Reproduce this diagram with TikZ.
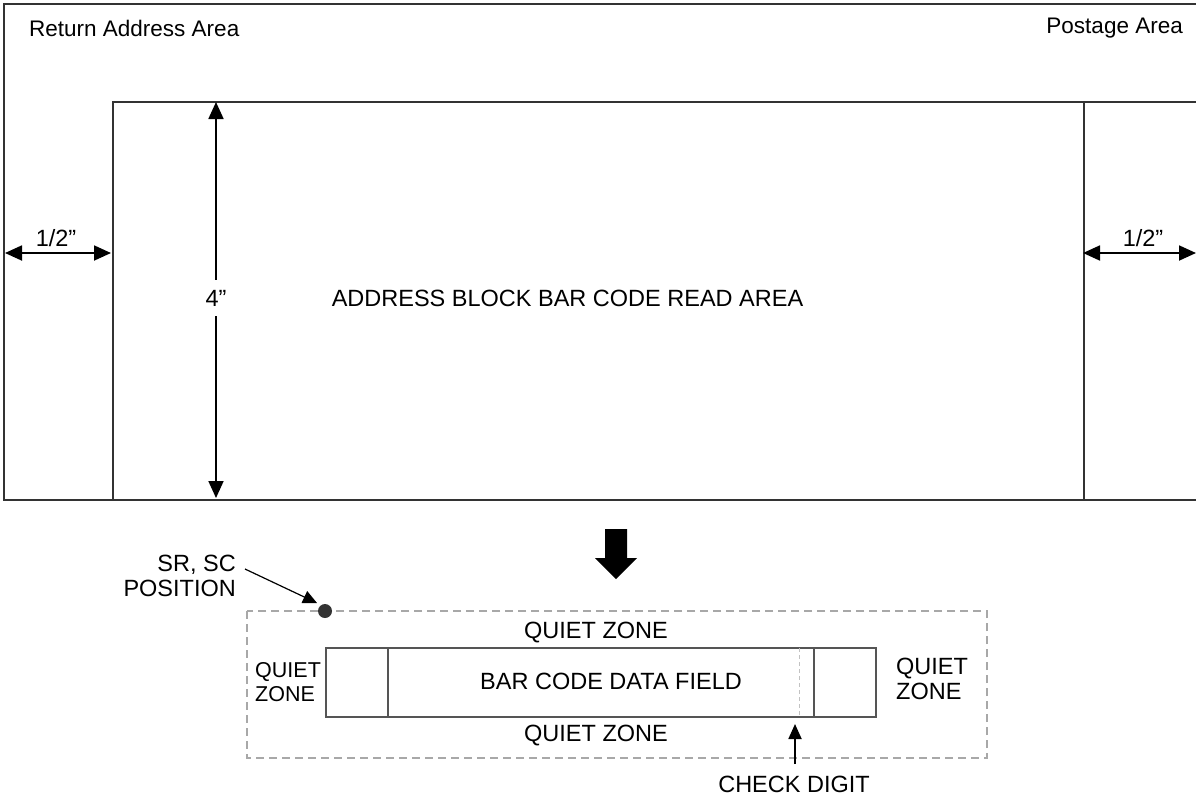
\documentclass[tikz,border=0pt]{standalone}
\usepackage{fontspec}
\setmainfont{Liberation Sans}
\usetikzlibrary{arrows.meta}
\definecolor{linegray}{HTML}{333333}
\definecolor{dashgray}{HTML}{A8A8A8}
\definecolor{boxgray}{HTML}{555555}
\begin{document}
\begin{tikzpicture}[x=1pt,y=-1pt,
  lbl/.style={font=\fontsize{23.5}{25}\selectfont, inner sep=0pt, text=black},
  toplbl/.style={font=\fontsize{22.5}{25}\selectfont, inner sep=0pt, text=black},
  smalllbl/.style={font=\fontsize{21.5}{24.5}\selectfont, inner sep=0pt, text=black},
  frame/.style={draw=linegray, line width=2.2pt},
  dimline/.style={line width=1.8pt, {Triangle[length=17pt,width=15pt]}-{Triangle[length=17pt,width=15pt]}},
  oneway/.style={line width=1.8pt, -{Triangle[length=17pt,width=15pt]}},
  zonebox/.style={draw=boxgray, line width=1.2pt, minimum height=69pt, inner sep=0pt},
  quiet/.style={draw=dashgray, line width=1.5pt, dash pattern=on 8pt off 5pt}
]
\useasboundingbox (0,0) rectangle (1196,796);
\fill[white] (0,0) rectangle (1196,796);

% envelope
\draw[frame] (1200,4) -- (4,4) -- (4,500) -- (1200,500);
\draw[frame] (113,500) -- (113,102) -- (1200,102);
\draw[frame] (1084,102) -- (1084,500);

\node[toplbl, anchor=west] (ret) at (29,28) {Return Address Area};
\node[toplbl, anchor=east] (post) at (1183,28) {Postage Area};
\node[lbl] (read) at (567.5,298) {ADDRESS BLOCK BAR CODE READ AREA};

% 4" dimension
\node[lbl, fill=white, inner xsep=2pt, inner ysep=10pt] (four) at (216,298) {4”};
\coordinate (fourtop) at (216,102);
\coordinate (fourbot) at (216,498);
\draw[oneway] (four.north) -- (fourtop);
\draw[oneway] (four.south) -- (fourbot);

% left 1/2"
\coordinate (la) at (5,253);
\coordinate (lb) at (111,253);
\draw[dimline] (la) -- (lb);
\node[lbl] (lhalf) at (56,238) {1/2”};

% right 1/2"
\coordinate (ra) at (1083,253);
\coordinate (rb) at (1196,253);
\draw[dimline] (ra) -- (rb);
\node[lbl] (rhalf) at (1143,238) {1/2”};

% big down arrow
\fill[black] (605,529) -- (627,529) -- (627,558) -- (637,558) -- (616,579) -- (595,558) -- (605,558) -- cycle;

% quiet zone dashed rectangle
\draw[quiet] (247,611) rectangle (987,758);

% SR, SC position
\fill[linegray] (325,611) circle (7pt);
\coordinate (dot) at (317,603);
\node[lbl, align=right, anchor=east] (sr) at (236,576) {SR, SC\\POSITION};
\coordinate (srs) at (245,569);
\draw[line width=1.2pt, -{Triangle[length=14pt,width=13pt]}] (srs) -- (dot);

% bar code boxes
\node[zonebox, minimum width=62pt] (qzl) at (357,682.5) {};
\node[zonebox, minimum width=426pt] (data) at (601,682.5) {};
\node[zonebox, minimum width=62pt] (qzr) at (845,682.5) {};
\node[lbl] (datatext) at (611,681) {BAR CODE DATA FIELD};
\draw[draw=dashgray!70, line width=1pt, dash pattern=on 4pt off 3pt] (799,648) -- (799,717);

\node[lbl] (qtop) at (596,632.5) {QUIET ZONE};
\node[lbl] (qbot) at (596,735.5) {QUIET ZONE};
\node[smalllbl, align=left, anchor=west] (qleft) at (255,682) {QUIET\\ZONE};
\node[lbl, align=left, anchor=west] (qright) at (896,679) {QUIET\\ZONE};

% check digit
\node[lbl] (check) at (794,784) {CHECK DIGIT};
\coordinate (chk) at (795,724);
\coordinate (chkbase) at (795,764);
\draw[line width=1.8pt, -{Triangle[length=15pt,width=13pt]}] (chkbase) -- (chk);
\end{tikzpicture}
\end{document}
